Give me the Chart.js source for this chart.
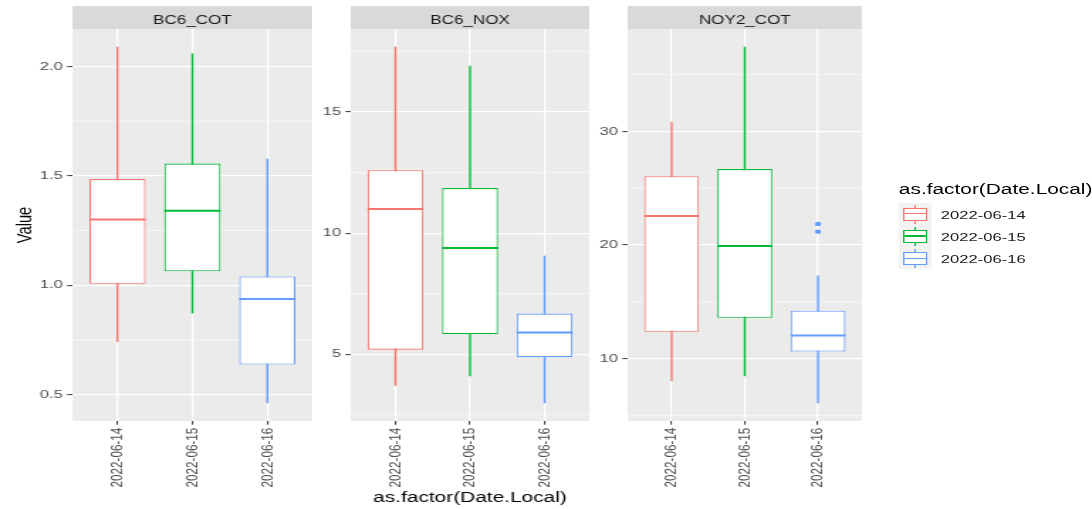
<!DOCTYPE html>
<html>
<head>
<meta charset="utf-8">
<script src="https://cdn.jsdelivr.net/npm/chart.js@4.4.0/dist/chart.umd.min.js"></script>
<style>
  body { margin: 0; background: #fff; overflow: hidden; }
  /* the reference is stretched sideways, so the whole figure is laid out narrow and scaled */
  #stage { position: absolute; left: 0; top: 0; width: 769px; height: 509px;
           transform: scaleX(1.42); transform-origin: 0 0;
           font-family: 'Liberation Sans', Arial, sans-serif; }
  #stage canvas { position: absolute; top: 0; }
  .legend-title { position: absolute; left: 633px; top: 181px; font-size: 14.7px;
                  line-height: 17px; color: #000; white-space: nowrap; }
  .key { position: absolute; left: 633px; width: 22.6px; height: 22.3px; background: #f2f2f2; }
  .key .wh { position: absolute; left: 10.8px; width: 1px; top: 2px; height: 19px; }
  .key .bx { position: absolute; left: 2.8px; width: 17.6px; top: 5px; height: 13px;
             box-sizing: border-box; border: 1.2px solid; background: #fff; }
  .key .md { position: absolute; left: 0; right: 0; top: 4.6px; height: 1.4px; }
  .key-label { position: absolute; left: 662.5px; font-size: 11.7px; line-height: 22.3px;
               color: #1a1a1a; white-space: nowrap; }
</style>
</head>
<body>
<div id="stage">
  <canvas id="p1" width="220" height="509" style="left:0px"></canvas>
  <canvas id="p2" width="196" height="509" style="left:219px"></canvas>
  <canvas id="p3" width="197" height="509" style="left:414px"></canvas>
  <div class="legend-title">as.factor(Date.Local)</div>
  <div id="legend"></div>
</div>
<script>
const dates = ['2022-06-14', '2022-06-15', '2022-06-16'];
const colors = ['#F8766D', '#00BA38', '#619CFF'];
const facetNames = ['BC6_COT', 'BC6_NOX', 'NOY2_COT'];

// BC6_COT
const bc6CotLow  = [0.74, 0.87, 0.46];
const bc6CotQ1   = [1.006, 1.063, 0.637];
const bc6CotMed  = [1.30, 1.34, 0.936];
const bc6CotQ3   = [1.485, 1.556, 1.04];
const bc6CotHigh = [2.09, 2.06, 1.578];
const bc6CotOut  = [[], [], []];

// BC6_NOX
const bc6NoxLow  = [3.70, 4.09, 2.98];
const bc6NoxQ1   = [5.19, 5.83, 4.88];
const bc6NoxMed  = [11.0, 9.39, 5.90];
const bc6NoxQ3   = [12.6, 11.86, 6.68];
const bc6NoxHigh = [17.69, 16.91, 9.07];
const bc6NoxOut  = [[], [], []];

// NOY2_COT
const noy2CotLow  = [8.06, 8.47, 6.10];
const noy2CotQ1   = [12.38, 13.61, 10.64];
const noy2CotMed  = [22.56, 19.91, 12.05];
const noy2CotQ3   = [26.06, 26.68, 14.23];
const noy2CotHigh = [30.85, 37.43, 17.33];
const noy2CotOut  = [[], [], [21.85, 21.18]];

const yTickSteps = [0.5, 5, 10];
const yTickDecimals = [1, 0, 0];

const FONT = "'Liberation Sans', Arial, sans-serif";

const facets = [
    { low: bc6CotLow, q1: bc6CotQ1, med: bc6CotMed, q3: bc6CotQ3, high: bc6CotHigh, out: bc6CotOut },
    { low: bc6NoxLow, q1: bc6NoxQ1, med: bc6NoxMed, q3: bc6NoxQ3, high: bc6NoxHigh, out: bc6NoxOut },
    { low: noy2CotLow, q1: noy2CotQ1, med: noy2CotMed, q3: noy2CotQ3, high: noy2CotHigh, out: noy2CotOut }
];
const canvasIds = ['p1', 'p2', 'p3'];
const axisWidths = [51, 28, 28];

// panel background, minor grid, strip label and medians
const facetPlugin = {
    id: 'facet',
    beforeDraw(chart, args, opts) {
        const {ctx, chartArea: a} = chart;
        const y = chart.scales.y;
        ctx.save();
        ctx.fillStyle = '#ebebeb';
        ctx.fillRect(a.left, a.top, a.right - a.left, a.bottom - a.top);
        ctx.strokeStyle = '#ffffff';
        ctx.lineWidth = 0.6;
        let v = Math.floor(y.min / opts.step) * opts.step + opts.step / 2;
        for (; v < y.max; v += opts.step) {
            if (v <= y.min) continue;
            const py = y.getPixelForValue(v);
            ctx.beginPath();
            ctx.moveTo(a.left, py);
            ctx.lineTo(a.right, py);
            ctx.stroke();
        }
        ctx.fillStyle = '#d9d9d9';
        ctx.fillRect(a.left, 6, a.right - a.left, a.top - 6);
        ctx.fillStyle = '#1a1a1a';
        ctx.font = '12px ' + FONT;
        ctx.textAlign = 'center';
        ctx.textBaseline = 'alphabetic';
        ctx.fillText(opts.title, (a.left + a.right) / 2, 23.8);
        ctx.restore();
    },
    afterDatasetsDraw(chart, args, opts) {
        const {ctx} = chart;
        const y = chart.scales.y;
        const meta = chart.getDatasetMeta(1);
        ctx.save();
        meta.data.forEach((bar, i) => {
            const half = bar.width / 2;
            const py = y.getPixelForValue(opts.medians[i]);
            ctx.strokeStyle = colors[i];
            ctx.lineWidth = 2;
            ctx.beginPath();
            ctx.moveTo(bar.x - half, py);
            ctx.lineTo(bar.x + half, py);
            ctx.stroke();
        });
        ctx.restore();
    }
};

facets.forEach((f, k) => {
    const lo = Math.min(...f.low, ...f.out.flat());
    const hi = Math.max(...f.high, ...f.out.flat());
    const pad = (hi - lo) * 0.05;

    const outliers = [];
    f.out.forEach((list, i) => list.forEach(v => outliers.push({x: i + 1, y: v})));

    new Chart(document.getElementById(canvasIds[k]), {
        type: 'bar',
        data: {
            datasets: [{
                label: 'whisker',
                data: dates.map((d, i) => ({x: i + 1, y: [f.low[i], f.high[i]]})),
                backgroundColor: colors,
                barThickness: 1.4,
                inflateAmount: 0,
                grouped: false,
                order: 3
            }, {
                label: 'box',
                data: dates.map((d, i) => ({x: i + 1, y: [f.q1[i], f.q3[i]]})),
                backgroundColor: '#ffffff',
                borderColor: colors,
                borderWidth: 1.1,
                borderSkipped: false,
                barPercentage: 0.75,
                categoryPercentage: 1,
                grouped: false,
                order: 2
            }, {
                type: 'scatter',
                label: 'outlier',
                data: outliers,
                pointRadius: 2.2,
                pointBorderWidth: 0,
                pointBackgroundColor: colors[2],
                order: 1
            }]
        },
        options: {
            responsive: false,
            animation: false,
            layout: { padding: { top: 29, right: 0, bottom: 0, left: 0 } },
            plugins: {
                legend: { display: false },
                tooltip: { enabled: false },
                facet: { title: facetNames[k], step: yTickSteps[k], medians: f.med }
            },
            scales: {
                x: {
                    type: 'linear',
                    min: 0.4,
                    max: 3.6,
                    offset: false,
                    afterFit(scale) { scale.height = 88; },
                    border: { display: false },
                    grid: { color: '#ffffff', lineWidth: 1.2, offset: false,
                            tickColor: '#333333', tickLength: 3.7, tickWidth: 1 },
                    ticks: {
                        stepSize: 1,
                        includeBounds: false,
                        autoSkip: false,
                        minRotation: 90,
                        maxRotation: 90,
                        padding: 3,
                        color: '#4d4d4d',
                        font: { family: FONT, size: 11.7 },
                        callback: v => dates[Math.round(v) - 1]
                    },
                    title: {
                        display: k === 1,
                        text: 'as.factor(Date.Local)',
                        color: '#000000',
                        font: { family: FONT, size: 14.7 },
                        padding: { top: 0, bottom: 2.2 }
                    }
                },
                y: {
                    min: lo - pad,
                    max: hi + pad,
                    afterFit(scale) { scale.width = axisWidths[k]; },
                    border: { display: false },
                    grid: { color: '#ffffff', lineWidth: 1.2,
                            tickColor: '#333333', tickLength: 3.7, tickWidth: 1 },
                    ticks: {
                        stepSize: yTickSteps[k],
                        includeBounds: false,
                        padding: 3,
                        color: '#4d4d4d',
                        font: { family: FONT, size: 11.7 },
                        callback: v => v.toFixed(yTickDecimals[k])
                    },
                    title: {
                        display: k === 0,
                        text: 'Value',
                        color: '#000000',
                        font: { family: FONT, size: 14.7 },
                        padding: { top: 8.8, bottom: 0 }
                    }
                }
            }
        },
        plugins: [facetPlugin]
    });
});

// legend keys drawn like ggplot's boxplot keys
const legend = document.getElementById('legend');
dates.forEach((d, i) => {
    const top = 202.5 + i * 22.3;
    const key = document.createElement('div');
    key.className = 'key';
    key.style.top = top + 'px';
    key.innerHTML = '<div class="wh" style="background:' + colors[i] + '"></div>' +
        '<div class="bx" style="border-color:' + colors[i] + '">' +
        '<div class="md" style="background:' + colors[i] + '"></div></div>';
    legend.appendChild(key);
    const lab = document.createElement('div');
    lab.className = 'key-label';
    lab.style.top = (top + 1) + 'px';
    lab.textContent = d;
    legend.appendChild(lab);
});
</script>
</body>
</html>
